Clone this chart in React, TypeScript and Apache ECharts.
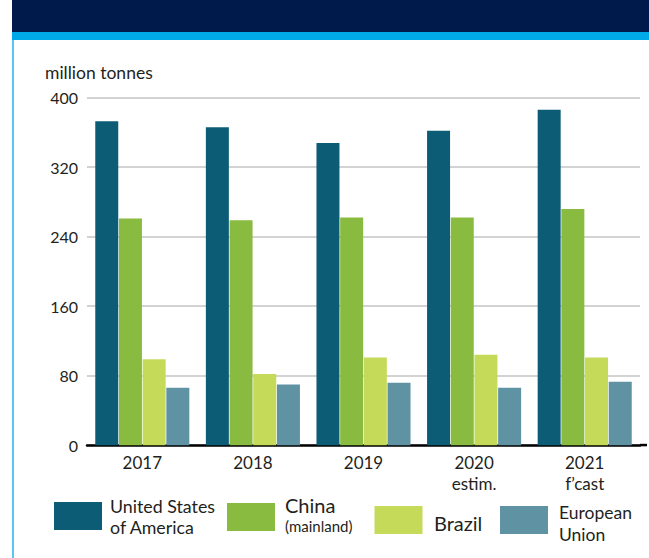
import React, { useEffect, useRef } from "react";
import * as echarts from "echarts";

const categories = ["2017", "2018", "2019", "2020\nestim.", "2021\nf\u2019cast"];
const seriesNames = ["United States of America", "China (mainland)", "Brazil", "European Union"];
const usa = [373, 366, 348, 362, 386];
const china = [261, 259, 262, 262, 272];
const brazil = [99, 82, 101, 104, 101];
const eu = [66, 70, 72, 66, 73];
const yTicks = [0, 80, 160, 240, 320, 400];
const colors = ["#0D5C75", "#8ABB41", "#C6DA5A", "#5F93A4"];

const FONT = "Lato";
const TEXT = "#231F20";

export default function App() {
  const ref = useRef<HTMLDivElement>(null);
  useEffect(() => {
    if (!ref.current) return;
    const chart = echarts.init(ref.current, null, { renderer: "svg" });
    const values = [usa, china, brazil, eu];
    const option: any = {
      animation: false,
      backgroundColor: "#ffffff",
      grid: { left: 87, right: 9, top: 97.7, bottom: 112.8, containLabel: false },
      xAxis: {
        type: "category",
        data: categories,
        axisLine: { show: true, lineStyle: { color: "#000000", width: 2.5 } },
        axisTick: { show: false },
        axisLabel: {
          color: TEXT,
          fontFamily: FONT,
          fontSize: 17,
          lineHeight: 21,
          margin: 7,
        },
      },
      yAxis: {
        type: "value",
        min: yTicks[0],
        max: yTicks[yTicks.length - 1],
        interval: yTicks[1] - yTicks[0],
        axisLine: { show: false },
        axisTick: { show: false },
        axisLabel: { color: TEXT, fontFamily: FONT, fontSize: 16, margin: 9 },
        splitLine: { lineStyle: { color: "#D3D3D3", width: 2 } },
      },
      series: seriesNames.map((name, i) => ({
        name,
        type: "bar",
        data: values[i],
        barWidth: 23,
        barGap: "3%",
        itemStyle: { color: colors[i] },
      })),
      graphic: [
        { type: "rect", shape: { x: 12, y: 0, width: 637, height: 32 }, style: { fill: "#001A4B" } },
        { type: "rect", shape: { x: 12, y: 32, width: 637, height: 8 }, style: { fill: "#00AAE9" } },
        { type: "rect", shape: { x: 12, y: 40, width: 2, height: 518 }, style: { fill: "#5BC6F2" } },
        { type: "rect", shape: { x: 640, y: 443.8, width: 7, height: 2.5 }, style: { fill: "#000000" } },
        {
          type: "text",
          x: 45,
          y: 72.5,
          style: { text: "million tonnes", fill: TEXT, font: `17.5px ${FONT}`, textVerticalAlign: "middle" },
        },
        // legend
        { type: "rect", shape: { x: 54, y: 502, width: 48, height: 28 }, style: { fill: colors[0] } },
        {
          type: "text",
          x: 110,
          y: 516,
          style: {
            text: "United States\nof America",
            fill: TEXT,
            fontFamily: FONT,
            fontSize: 17.8,
            lineHeight: 21,
            verticalAlign: "middle",
          },
        },
        { type: "rect", shape: { x: 227, y: 503, width: 48, height: 28 }, style: { fill: colors[1] } },
        {
          type: "text",
          x: 285,
          y: 505,
          style: { text: "China", fill: TEXT, fontFamily: FONT, fontSize: 20, verticalAlign: "middle" },
        },
        {
          type: "text",
          x: 285,
          y: 526,
          style: { text: "(mainland)", fill: TEXT, fontFamily: FONT, fontSize: 15, verticalAlign: "middle" },
        },
        { type: "rect", shape: { x: 374.5, y: 506, width: 48, height: 28 }, style: { fill: colors[2] } },
        {
          type: "text",
          x: 434,
          y: 523,
          style: { text: "Brazil", fill: TEXT, fontFamily: FONT, fontSize: 20, verticalAlign: "middle" },
        },
        { type: "rect", shape: { x: 500, y: 506, width: 48, height: 28 }, style: { fill: colors[3] } },
        {
          type: "text",
          x: 559,
          y: 523,
          style: {
            text: "European\nUnion",
            fill: TEXT,
            fontFamily: FONT,
            fontSize: 17.5,
            lineHeight: 22,
            verticalAlign: "middle",
          },
        },
      ],
    };
    chart.setOption(option);
    return () => chart.dispose();
  }, []);
  return (
    <div
      ref={ref}
      style={{ position: "fixed", left: 0, top: 0, width: 649, height: 558, background: "#ffffff" }}
    />
  );
}
